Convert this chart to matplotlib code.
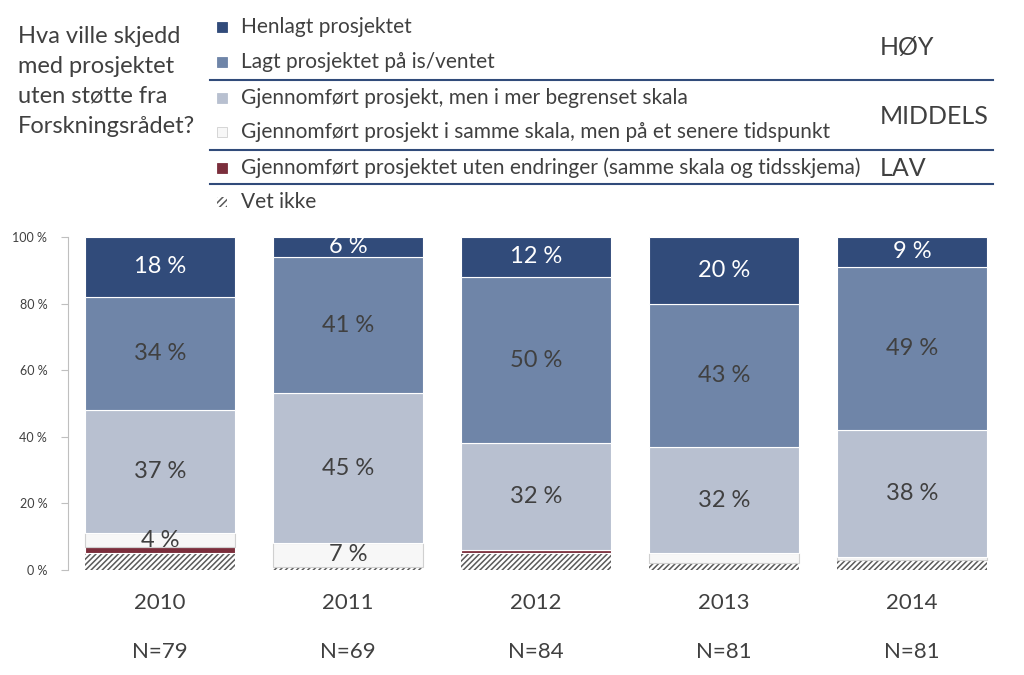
import numpy as np
import matplotlib.pyplot as plt
from matplotlib.patches import Rectangle
from matplotlib.lines import Line2D

plt.rcParams['font.family'] = ['Lato', 'DejaVu Sans']
plt.rcParams['hatch.linewidth'] = 1.1

years = ["2010", "2011", "2012", "2013", "2014"]
n_labels = ["N=79", "N=69", "N=84", "N=81", "N=81"]

# bottom -> top
vet_ikke = [5, 1, 5, 2, 3]
uten_endringer = [2, 0, 1, 0, 0]
senere = [4, 7, 0, 3, 1]
begrenset = [37, 45, 32, 32, 38]
lagt_pa_is = [34, 41, 50, 43, 49]
henlagt = [18, 6, 12, 20, 9]

series = [
    ("Vet ikke", vet_ikke, "white"),
    ("Gjennomført prosjektet uten endringer (samme skala og tidsskjema)", uten_endringer, "#7b2e3c"),
    ("Gjennomført prosjekt i samme skala, men på et senere tidspunkt", senere, "#f7f7f7"),
    ("Gjennomført prosjekt, men i mer begrenset skala", begrenset, "#b8c0d0"),
    ("Lagt prosjektet på is/ventet", lagt_pa_is, "#6f85a8"),
    ("Henlagt prosjektet", henlagt, "#314b7a"),
]
labelled = {"Gjennomført prosjekt i samme skala, men på et senere tidspunkt": "#404040",
            "Gjennomført prosjekt, men i mer begrenset skala": "#404040",
            "Lagt prosjektet på is/ventet": "#404040",
            "Henlagt prosjektet": "white"}

fig = plt.figure(figsize=(10.24, 6.75), dpi=100)
ax = fig.add_axes([0.0664, 0.1556, 0.916, 0.4933])

x = np.arange(len(years))
bottom = np.zeros(len(years))
for name, vals, col in series:
    vals = np.array(vals, dtype=float)
    if name == "Vet ikke":
        ax.bar(x, vals, 0.8, bottom=bottom, color="white", edgecolor="#5a5a5a",
               hatch="//////", linewidth=0)
    else:
        ec = "#d0d0d0" if col == "#f7f7f7" else "white"
        ax.bar(x, vals, 0.8, bottom=bottom, color=col, edgecolor=ec, linewidth=0.8)
    if name in labelled:
        for i, v in enumerate(vals):
            if v >= 4:
                ax.text(x[i], bottom[i] + v / 2, f"{int(v)} %", ha="center", va="center",
                        fontsize=17, color=labelled[name])
    bottom += vals

ax.set_xlim(-0.49, 4.5)
ax.set_ylim(0, 100)
ax.set_yticks(range(0, 101, 20))
ax.set_yticklabels([f"{t} %" for t in range(0, 101, 20)], fontsize=9, color="#404040")
ax.set_xticks([])
for s in ["top", "right", "bottom"]:
    ax.spines[s].set_visible(False)
ax.spines["left"].set_color("#bfbfbf")
ax.tick_params(axis="y", color="#bfbfbf", length=5, pad=10)

for i in range(len(years)):
    ax.text(x[i], -0.099, years[i], transform=ax.get_xaxis_transform(), ha="center",
            va="center", fontsize=16, color="#404040")
    ax.text(x[i], -0.246, n_labels[i], transform=ax.get_xaxis_transform(), ha="center",
            va="center", fontsize=16, color="#404040")

# title text
fig.text(18 / 1024, 1 - 26 / 675, "Hva ville skjedd\nmed prosjektet\nuten støtte fra\nForskningsrådet?",
         ha="left", va="top", fontsize=17, color="#404040", linespacing=1.52)

# legend, drawn by hand
rows_y = [27, 62, 98, 132, 168, 202]
for (name, vals, col), yy in zip(series[::-1], rows_y):
    yf = 1 - yy / 675
    if name == "Vet ikke":
        r = Rectangle((217 / 1024, yf - 5 / 675), 10 / 1024, 10 / 675, transform=fig.transFigure,
                      facecolor="white", edgecolor="#5a5a5a", hatch="/////", linewidth=0)
    else:
        ec = "#d0d0d0" if col == "#f7f7f7" else col
        r = Rectangle((217 / 1024, yf - 5 / 675), 10 / 1024, 10 / 675, transform=fig.transFigure,
                      facecolor=col, edgecolor=ec, linewidth=0.6)
    fig.patches.append(r)
    fig.text(241 / 1024, yf, name, ha="left", va="center", fontsize=15, color="#404040")

for yy in [80, 150, 184]:
    fig.add_artist(Line2D([210 / 1024, 993 / 1024], [1 - yy / 675] * 2,
                          transform=fig.transFigure, color="#314b7a", linewidth=1.5))

for txt, yy in [("HØY", 47), ("MIDDELS", 117), ("LAV", 168)]:
    fig.text(880 / 1024, 1 - yy / 675, txt, ha="left", va="center", fontsize=18, color="#404040")

fig.savefig("out.png", dpi=100)
